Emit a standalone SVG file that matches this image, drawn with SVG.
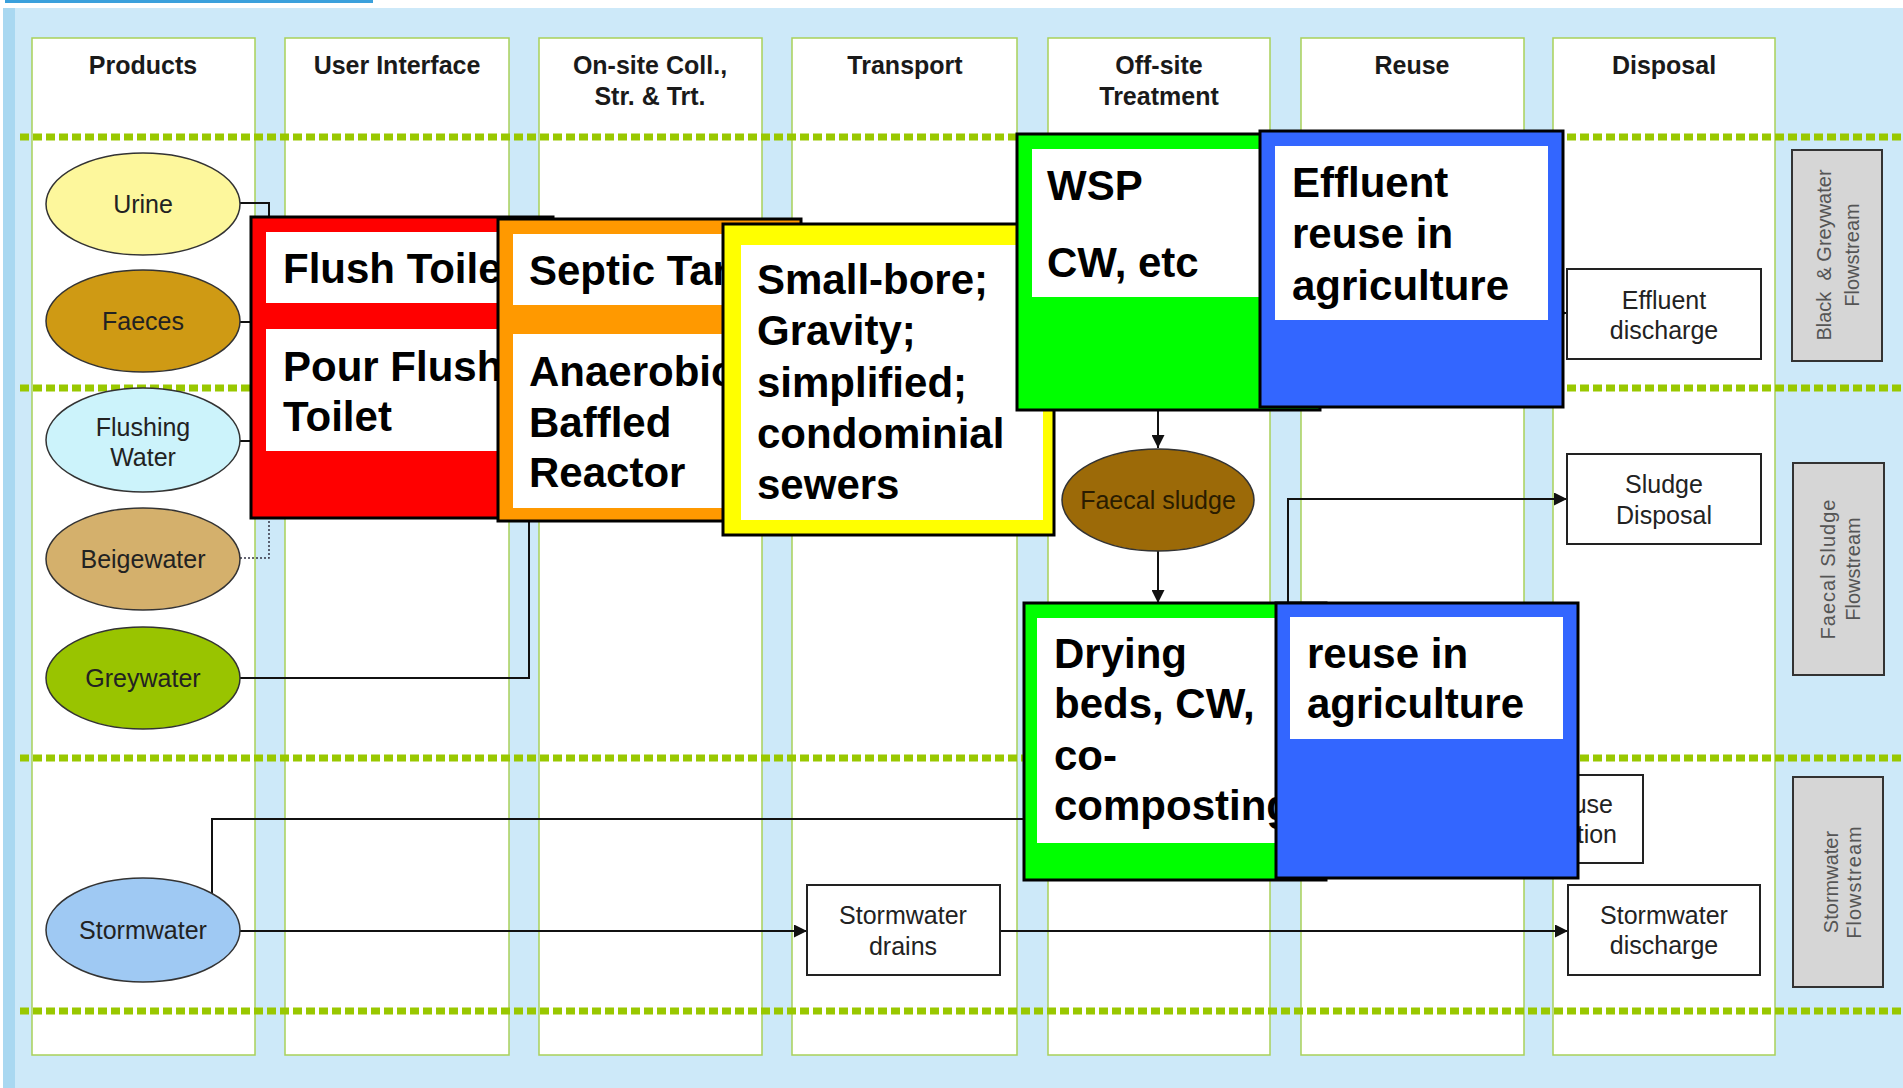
<svg xmlns="http://www.w3.org/2000/svg" width="1903" height="1088" viewBox="0 0 1903 1088">
<style>
.lane{fill:#ffffff;stroke:#a9d15a;stroke-width:1.5}
.dots{stroke:#99c800;stroke-width:7;stroke-dasharray:9 4;fill:none}
.hdr{font-family:"Liberation Sans",Arial,sans-serif;font-weight:bold;font-size:25px;fill:#1a1a1a;text-anchor:middle}
.lbl{font-family:"Liberation Sans",Arial,sans-serif;font-size:25px;fill:#222;text-anchor:middle}
.ell{stroke:#333;stroke-width:1.5}
.box{fill:#fff;stroke:#222;stroke-width:2}
.side{fill:#d6d6d6;stroke:#333;stroke-width:2}
.stxt{font-family:"Liberation Sans",Arial,sans-serif;font-size:20px;fill:#555;text-anchor:middle}
.big{font-family:"Liberation Sans",Arial,sans-serif;font-weight:bold;font-size:42px;fill:#000}
.frame{stroke:#000;stroke-width:3}
.conn{stroke:#111;stroke-width:2;fill:none}
.arr{stroke:#111;stroke-width:2;fill:none;marker-end:url(#ah)}
</style>
<defs>
<marker id="ah" viewBox="0 0 10 10" refX="10" refY="5" markerWidth="16" markerHeight="13" markerUnits="userSpaceOnUse" orient="auto">
<path d="M0,0 L10,5 L0,10 z" fill="#111"/>
</marker>
</defs>
<rect x="0" y="0" width="1903" height="1088" fill="#ffffff"/>
<rect x="5" y="0" width="368" height="3" fill="#3aa0dc"/>
<rect x="15" y="8" width="1888" height="1080" fill="#cde9f9"/>
<rect x="3" y="8" width="12" height="1080" fill="#a9d8f1"/>
<g id="lanes">
<rect class="lane" x="32" y="38" width="223" height="1017"/>
<rect class="lane" x="285" y="38" width="224" height="1017"/>
<rect class="lane" x="539" y="38" width="223" height="1017"/>
<rect class="lane" x="792" y="38" width="225" height="1017"/>
<rect class="lane" x="1048" y="38" width="222" height="1017"/>
<rect class="lane" x="1301" y="38" width="223" height="1017"/>
<rect class="lane" x="1553" y="38" width="222" height="1017"/>
</g>
<g id="dividers">
<line class="dots" x1="20" y1="137" x2="1903" y2="137"/>
<line class="dots" x1="20" y1="388" x2="1903" y2="388"/>
<line class="dots" x1="20" y1="758" x2="1903" y2="758"/>
<line class="dots" x1="20" y1="1011" x2="1903" y2="1011"/>
</g>
<g id="headers">
<text class="hdr" x="143" y="74">Products</text>
<text class="hdr" x="397" y="74">User Interface</text>
<text class="hdr" x="650" y="74">On-site Coll.,</text>
<text class="hdr" x="650" y="105">Str. &amp; Trt.</text>
<text class="hdr" x="905" y="74">Transport</text>
<text class="hdr" x="1159" y="74">Off-site</text>
<text class="hdr" x="1159" y="105">Treatment</text>
<text class="hdr" x="1412" y="74">Reuse</text>
<text class="hdr" x="1664" y="74">Disposal</text>
</g>
<g id="side-labels">
<rect class="side" x="1792" y="150" width="90" height="211"/>
<text class="stxt" transform="rotate(-90 1831 255)" x="1831" y="255">Black &#160;&amp; Greywater</text>
<text class="stxt" transform="rotate(-90 1859 255)" x="1859" y="255">Flowstream</text>
<rect class="side" x="1793" y="463" width="91" height="212"/>
<text class="stxt" transform="rotate(-90 1835 569)" x="1835" y="569" letter-spacing="1">Faecal Sludge</text>
<text class="stxt" transform="rotate(-90 1860 569)" x="1860" y="569">Flowstream</text>
<rect class="side" x="1793" y="777" width="90" height="210"/>
<text class="stxt" transform="rotate(-90 1838 882)" x="1838" y="882">Stormwater</text>
<text class="stxt" transform="rotate(-90 1861 882)" x="1861" y="882" letter-spacing="1">Flowstream</text>
</g>
<g id="connectors">
<polyline class="conn" points="240,203 269,203 269,220"/>
<line class="conn" x1="240" y1="322" x2="253" y2="322"/>
<line class="conn" x1="240" y1="441" x2="253" y2="441"/>
<polyline points="240,558 269,558 269,516" fill="none" stroke="#334" stroke-width="1.5" stroke-dasharray="2 2"/>
<polyline class="conn" points="240,678 529,678 529,518"/>
<line class="arr" x1="1158" y1="410" x2="1158" y2="448"/>
<line class="arr" x1="1158" y1="551" x2="1158" y2="603"/>
<polyline class="arr" points="1288,605 1288,499 1567,499"/>
<line class="arr" x1="1540" y1="313" x2="1567" y2="313"/>
<polyline class="conn" points="212,893 212,819 1570,819"/>
<line class="arr" x1="239" y1="931" x2="807" y2="931"/>
<line class="arr" x1="1000" y1="931" x2="1568" y2="931"/>
</g>
<g id="urine"><ellipse class="ell" cx="143" cy="204" rx="97" ry="51" fill="#fdf79c"/><text class="lbl" x="143" y="213">Urine</text></g>
<g id="faeces"><ellipse class="ell" cx="143" cy="321" rx="97" ry="51" fill="#cf9a14"/><text class="lbl" x="143" y="330">Faeces</text></g>
<g id="flushing-water"><ellipse class="ell" cx="143" cy="440" rx="97" ry="52" fill="#ccf3fb"/><text class="lbl" x="143" y="436">Flushing</text><text class="lbl" x="143" y="466">Water</text></g>
<g id="beigewater"><ellipse class="ell" cx="143" cy="559" rx="97" ry="51" fill="#d4b06c"/><text class="lbl" x="143" y="568">Beigewater</text></g>
<g id="greywater"><ellipse class="ell" cx="143" cy="678" rx="97" ry="51" fill="#99c400"/><text class="lbl" x="143" y="687">Greywater</text></g>
<g id="stormwater"><ellipse class="ell" cx="143" cy="930" rx="97" ry="52" fill="#9fc9f3"/><text class="lbl" x="143" y="939">Stormwater</text></g>
<g id="faecal-sludge"><ellipse class="ell" cx="1158" cy="500" rx="96" ry="51" fill="#9c6a08"/><text class="lbl" x="1158" y="509" style="fill:#2a1c00">Faecal sludge</text></g>
<g id="effluent-discharge"><rect class="box" x="1567" y="269" width="194" height="90"/><text class="lbl" x="1664" y="309">Effluent</text><text class="lbl" x="1664" y="339">discharge</text></g>
<g id="sludge-disposal"><rect class="box" x="1567" y="454" width="194" height="90"/><text class="lbl" x="1664" y="493">Sludge</text><text class="lbl" x="1664" y="524">Disposal</text></g>
<g id="reuse-box"><rect class="box" x="1500" y="775" width="143" height="88"/><text class="lbl" x="1613" y="813" style="text-anchor:end">use</text><text class="lbl" x="1617" y="843" style="text-anchor:end">tion</text></g>
<g id="stormwater-drains"><rect class="box" x="807" y="885" width="193" height="90"/><text class="lbl" x="903" y="924">Stormwater</text><text class="lbl" x="903" y="955">drains</text></g>
<g id="stormwater-discharge"><rect class="box" x="1568" y="885" width="192" height="90"/><text class="lbl" x="1664" y="924">Stormwater</text><text class="lbl" x="1664" y="954">discharge</text></g>
<g id="user-interface-box">
<rect class="frame" x="251" y="217" width="302" height="301" fill="#ff0000"/>
<rect x="266" y="232" width="273" height="71" fill="#fff"/>
<rect x="266" y="329" width="273" height="122" fill="#fff"/>
<text class="big" x="283" y="283">Flush Toilet</text>
<text class="big" x="283" y="381">Pour Flush</text>
<text class="big" x="283" y="431">Toilet</text>
</g>
<g id="onsite-box">
<rect class="frame" x="498" y="219" width="303" height="302" fill="#ff9900"/>
<rect x="513" y="234" width="275" height="71" fill="#fff"/>
<rect x="513" y="334" width="275" height="174" fill="#fff"/>
<text class="big" x="529" y="285">Septic Tank</text>
<text class="big" x="529" y="386">Anaerobic</text>
<text class="big" x="529" y="437">Baffled</text>
<text class="big" x="529" y="487">Reactor</text>
</g>
<g id="transport-box">
<rect class="frame" x="723" y="224" width="331" height="311" fill="#ffff00"/>
<rect x="741" y="245" width="302" height="275" fill="#fff"/>
<text class="big" x="757" y="294">Small-bore;</text>
<text class="big" x="757" y="345">Gravity;</text>
<text class="big" x="757" y="397">simplified;</text>
<text class="big" x="757" y="448">condominial</text>
<text class="big" x="757" y="499">sewers</text>
</g>
<g id="offsite-treatment-box">
<rect class="frame" x="1017" y="134" width="303" height="276" fill="#00ff00"/>
<rect x="1032" y="149" width="275" height="148" fill="#fff"/>
<text class="big" x="1047" y="200">WSP</text>
<text class="big" x="1047" y="277">CW, etc</text>
</g>
<g id="effluent-reuse-box">
<rect class="frame" x="1260" y="131" width="303" height="276" fill="#3366ff"/>
<rect x="1275" y="146" width="273" height="174" fill="#fff"/>
<text class="big" x="1292" y="197">Effluent</text>
<text class="big" x="1292" y="248">reuse in</text>
<text class="big" x="1292" y="300">agriculture</text>
</g>
<g id="sludge-treatment-box">
<rect class="frame" x="1024" y="603" width="302" height="277" fill="#00ff00"/>
<rect x="1037" y="618" width="276" height="225" fill="#fff"/>
<text class="big" x="1054" y="668">Drying</text>
<text class="big" x="1054" y="718">beds, CW,</text>
<text class="big" x="1054" y="770">co-</text>
<text class="big" x="1054" y="820">composting</text>
</g>
<g id="sludge-reuse-box">
<rect class="frame" x="1276" y="603" width="302" height="275" fill="#3366ff"/>
<rect x="1290" y="617" width="273" height="122" fill="#fff"/>
<text class="big" x="1307" y="668">reuse in</text>
<text class="big" x="1307" y="718">agriculture</text>
</g>
</svg>
